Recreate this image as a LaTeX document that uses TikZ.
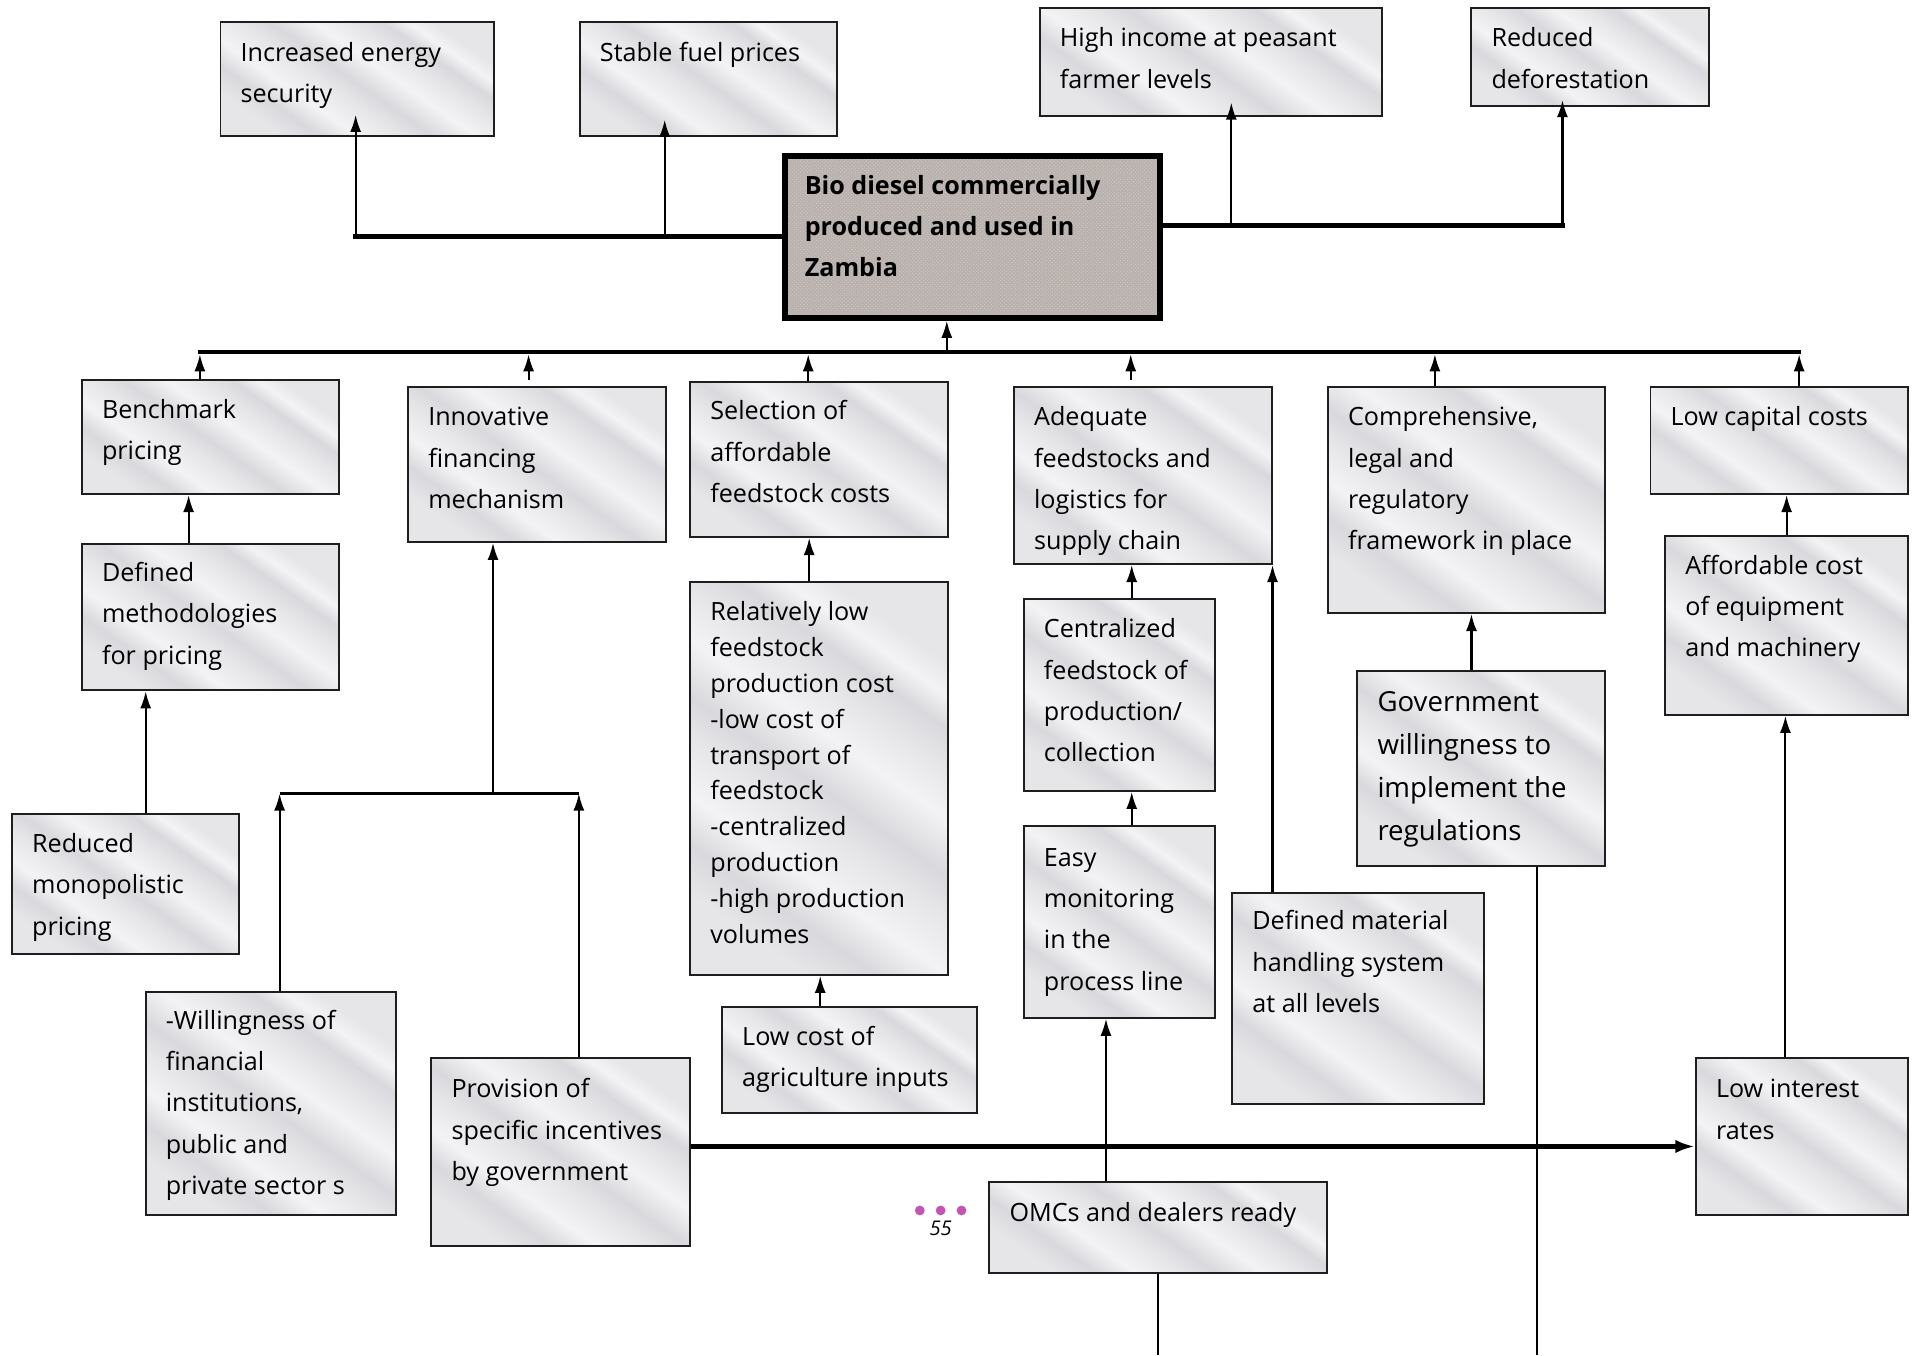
\documentclass[tikz,border=0pt]{standalone}
\usepackage{fontspec}
\setmainfont{Open Sans}
\usetikzlibrary{arrows.meta,calc,patterns}

\definecolor{edge}{RGB}{30,30,30}
\definecolor{mA}{RGB}{230,230,233}
\definecolor{mB}{RGB}{217,217,221}
\definecolor{mC}{RGB}{243,243,245}
\definecolor{granite}{RGB}{186,177,172}
\definecolor{dotc}{RGB}{196,84,180}

% streaky light-grey fill for the ordinary boxes
\pgfdeclarehorizontalshading{marble}{100bp}{color(0bp)=(mA); color(25bp)=(mA);
  color(31bp)=(mB); color(37bp)=(mC); color(44bp)=(mA); color(49bp)=(mB);
  color(56bp)=(mC); color(62bp)=(mA); color(67bp)=(mB); color(71bp)=(mC);
  color(75bp)=(mA); color(100bp)=(mA)}

\newcommand{\firstl}{\rule{0pt}{20pt}}

\tikzset{
  box/.style={draw=edge, line width=1.6pt, shading=marble, shading angle=55,
    anchor=north west, inner sep=0pt},
  txt/.style={anchor=north west, inner sep=0pt, align=left,
    font=\fontsize{20.5}{33.7}\selectfont},
  conn/.style={line width=1.7pt, draw=black},
  arr/.style={conn, -{Latex[length=14pt,width=9pt]}},
  bus/.style={line width=3.6pt, draw=black},
  busarr/.style={bus, -{Latex[length=16pt,width=11pt]}},
}

% box: [text options] name, x1, y1, x2, y2, first-baseline offset, text
\newcommand{\drawbox}[8][]{%
  \node[box, minimum width={#5-#3}, minimum height={#6-#4}] (#2) at (#3,#4) {};
  \node[txt,#1] (#2-t) at ([shift={(17pt,{-(#7-17)*1pt})}]#2.north west) {\firstl#8};}

\begin{document}
\begin{tikzpicture}[x=1pt,y=-1pt]
\useasboundingbox (0,0) rectangle (1568,1105);
\fill[white] (0,0) rectangle (1568,1105);

% ---------- outcomes ----------
\drawbox{ies}{179}{17}{402}{110}{30}{Increased energy\\security}
\drawbox{sfp}{472}{17}{682}{110}{30}{Stable fuel prices}
\drawbox{hi}{847}{6}{1126}{94}{29}{High income at peasant\\farmer levels}
\drawbox{rd}{1199}{6}{1393}{86}{29}{Reduced\\deforestation}

% ---------- central goal ----------
\node[draw=black, line width=5pt, preaction={fill=granite},
  pattern=crosshatch dots, pattern color=black!20,
  minimum width=306, minimum height=132, anchor=north west, inner sep=0pt]
  (ctr) at (637.5,124.5) {};
\node[txt, font=\fontsize{20.5}{33.6}\selectfont\bfseries] (ctr-t)
  at ([shift={(18.5pt,-13.5pt)}]ctr.north west)
  {\firstl Bio diesel commercially\\produced and used in\\Zambia};

% ---------- first level of means ----------
\drawbox{bp}{66}{309}{276}{402}{29}{Benchmark\\pricing}
\drawbox{ifm}{332}{315}{542}{441}{29}{Innovative\\financing\\mechanism}
\drawbox{sel}{562}{311}{772}{437}{28}{Selection of\\affordable\\feedstock costs}
\drawbox{adq}{826}{315}{1036}{459}{29}{Adequate\\feedstocks and\\logistics for\\supply chain}
\drawbox{clr}{1082}{315}{1308}{499}{29}{Comprehensive,\\legal and\\regulatory\\framework in place}
\drawbox{lcc}{1345}{315}{1555}{402}{29}{Low capital costs}

% ---------- deeper means ----------
\drawbox{dmp}{66}{443}{276}{562}{28}{Defined\\methodologies\\for pricing}
\drawbox[font=\fontsize{20.5}{29.2}\selectfont]{rel}{562}{474}{772}{794}{29}%
  {Relatively low\\feedstock\\production cost\\-low cost of\\transport of\\feedstock\\-centralized\\production\\-high production\\volumes}
\drawbox{cfp}{834}{488}{990}{644}{29}{Centralized\\feedstock of\\production/\\collection}
\drawbox[font=\fontsize{22.5}{35}\selectfont]{gov}{1106}{546}{1308}{705}{31}%
  {Government\\willingness to\\implement the\\regulations}
\drawbox{ace}{1357}{436}{1555}{582}{29}{Affordable cost\\of equipment\\and machinery}
\drawbox{rmp}{9}{663}{194}{777}{29}{Reduced\\monopolistic\\pricing}
\drawbox{emp}{834}{673}{990}{829}{30}{Easy\\monitoring\\in the\\process line}
\drawbox{dmh}{1004}{727}{1209}{899}{28}{Defined material\\handling system\\at all levels}
\drawbox{lca}{588}{820}{796}{907}{29}{Low cost of\\agriculture inputs}
\drawbox{wfi}{118}{808}{322}{990}{28}{-Willingness of\\financial\\institutions,\\public and\\private sector s}
\drawbox{psi}{351}{862}{562}{1015}{30}{Provision of\\specific incentives\\by government}
\drawbox{omc}{806}{963}{1081}{1037}{30}{OMCs and dealers ready}
\drawbox{lir}{1382}{862}{1555}{990}{30}{Low interest\\rates}

% ---------- links to the outcomes ----------
\coordinate (jL) at (290,193);
\coordinate (jS) at (542,193);
\coordinate (jH) at (1004,184);
\coordinate (jR) at (1274,184);
\draw[bus] (ctr.west |- jL) -- ([xshift=-1.8pt]jL);
\draw[arr] ([yshift=1pt]jL) -- ([yshift=18pt]ies.south -| jL);
\draw[arr] ([yshift=1pt]jS) -- ([yshift=14pt]sfp.south -| jS);
\draw[bus] (ctr.east |- jH) -- ([xshift=1.8pt]jR);
\draw[arr] ([yshift=1pt]jH) -- ([yshift=12pt]hi.south -| jH);
\draw[arr] ([yshift=1pt]jR) -- ([yshift=6pt]rd.south -| jR);

% ---------- bus below the goal ----------
\coordinate (b1) at (163,287);
\coordinate (b2) at (431,287);
\coordinate (b3) at (659,287);
\coordinate (bc) at (772,287);
\coordinate (b4) at (922,287);
\coordinate (b5) at (1170,287);
\coordinate (b6) at (1467,287);
\draw[bus] ([xshift=-1.8pt]b1) -- ([xshift=1.8pt]b6);
\draw[arr] (bc) -- (bc |- ctr.south);
\draw[arr] (bp.north -| b1) -- ([yshift=-1.8pt]b1);
\draw[arr] ([yshift=5pt]ifm.north -| b2) -- ([yshift=-1.8pt]b2);
\draw[arr] (sel.north -| b3) -- ([yshift=-1.8pt]b3);
\draw[arr] ([yshift=5pt]adq.north -| b4) -- ([yshift=-1.8pt]b4);
\draw[arr] (clr.north -| b5) -- ([yshift=-1.8pt]b5);
\draw[arr] (lcc.north -| b6) -- ([yshift=-1.8pt]b6);

% ---------- pricing chain ----------
\draw[arr] ([xshift=-18pt]dmp.north) -- ([xshift=-18pt]bp.south);
\draw[arr] ([xshift=16.5pt]rmp.north) -- ([xshift=16.5pt]rmp.north |- dmp.south);

% ---------- financing chain ----------
\coordinate (jf) at (402,647);
\coordinate (jfl) at (228,647);
\coordinate (jfr) at (472,647);
\draw[conn] (jfl) -- (jfr);
\draw[arr] (jf) -- (jf |- ifm.south);
\draw[arr] (wfi.north -| jfl) -- (jfl);
\draw[arr] (psi.north -| jfr) -- (jfr);

% ---------- feedstock chains ----------
\draw[arr] ([xshift=-8pt]rel.north) -- ([xshift=-8pt]sel.south);
\draw[arr] ([xshift=-24pt]lca.north) -- ([xshift=-24pt]lca.north |- rel.south);
\draw[arr] ([xshift=10pt]cfp.north) -- ([xshift=10pt]cfp.north |- adq.south);
\draw[arr] (dmh.north -| adq.south east) -- (adq.south east);
\draw[arr] ([xshift=10pt]emp.north) -- ([xshift=10pt]emp.north |- cfp.south);
\draw[arr] ([xshift=-42.5pt]omc.north) -- ([xshift=-42.5pt]omc.north |- emp.south);

% ---------- regulation and capital chains ----------
\draw[arr] ([xshift=-8pt]gov.north) -- ([xshift=-8pt]gov.north |- clr.south);
\draw[arr] (ace.north) -- (ace.north |- lcc.south);
\draw[arr] ([xshift=-13.5pt]lir.north) -- ([xshift=-13.5pt]lir.north |- ace.south);
\draw[busarr] ([yshift=4.5pt]psi.east) -- ([yshift=4.5pt]psi.east -| lir.west);

% ---------- lines leaving the lower edge ----------
\coordinate (pg1) at (1253,1105);
\draw[conn] (gov.south -| pg1) -- (pg1);
\draw[conn] (omc.south) -- (omc.south |- pg1);

% ---------- page number ----------
\foreach \i/\px in {1/750,2/767,3/784}
  \fill[dotc] (\px,987) circle[radius=4pt];
\node[font=\fontsize{16.5}{20}\selectfont\itshape, inner sep=0pt] (pgno) at (767,1002) {55};
\end{tikzpicture}
\end{document}
